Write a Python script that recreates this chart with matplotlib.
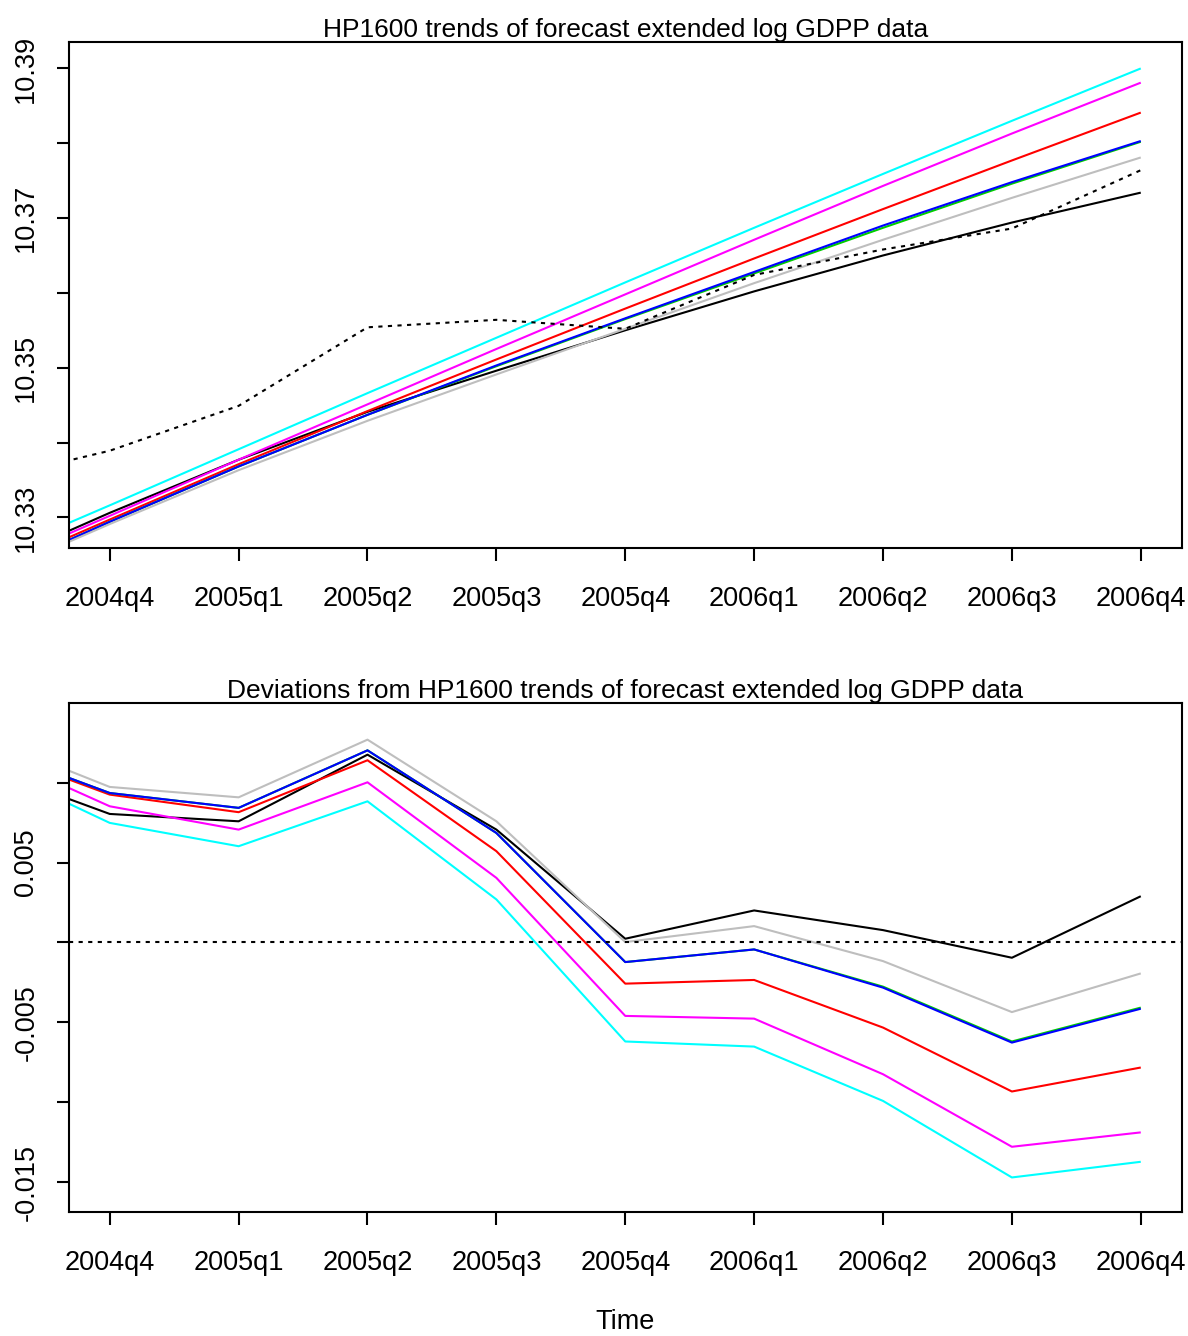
import matplotlib
matplotlib.use("Agg")
import matplotlib.pyplot as plt

plt.rcParams['font.family'] = ['Liberation Sans', 'DejaVu Sans']

# quarters: 2004q3 ... 2006q4 (2004q3 lies just outside the left edge)
quarters = ["2004q3", "2004q4", "2005q1", "2005q2", "2005q3", "2005q4",
            "2006q1", "2006q2", "2006q3", "2006q4"]
tick_labels = quarters[1:]

# ---- top panel: data and HP1600 trends (log GDPP) ----
data_top = [10.3348, 10.3389, 10.3449, 10.3554, 10.3564, 10.3552,
            10.3624, 10.3658, 10.3686, 10.3764]
trend_black = [10.3230, 10.3306, 10.3377, 10.3441, 10.3496, 10.3550,
               10.3602, 10.3650, 10.3694, 10.3734]
trend_red = [10.3222, 10.3297, 10.3371, 10.3442, 10.3511, 10.3579,
             10.3646, 10.3712, 10.3777, 10.3841]
trend_green = [10.3217, 10.3294, 10.3368, 10.3437, 10.3502, 10.3565,
               10.3626, 10.3687, 10.3746, 10.3802]
trend_blue = [10.3217, 10.3294, 10.3368, 10.3437, 10.3503, 10.3566,
              10.3628, 10.3690, 10.3748, 10.3803]
trend_cyan = [10.3242, 10.3316, 10.3391, 10.3466, 10.3540, 10.3614,
              10.3687, 10.3759, 10.3830, 10.3900]
trend_magenta = [10.3227, 10.3302, 10.3377, 10.3451, 10.3525, 10.3598,
                 10.3671, 10.3743, 10.3813, 10.3881]
trend_gray = [10.3216, 10.3291, 10.3363, 10.3429, 10.3491, 10.3552,
              10.3613, 10.3671, 10.3727, 10.3781]

# ---- bottom panel: deviations from trends ----
dev_black = [0.01100, 0.00804, 0.00758, 0.01175, 0.00706, 0.00023,
             0.00200, 0.00077, -0.00096, 0.00289]
dev_red = [0.01224, 0.00925, 0.00815, 0.01140, 0.00571, -0.00258,
           -0.00235, -0.00533, -0.00933, -0.00783]
dev_green = [0.01234, 0.00935, 0.00842, 0.01202, 0.00685, -0.00123,
             -0.00044, -0.00277, -0.00620, -0.00408]
dev_blue = [0.01234, 0.00935, 0.00842, 0.01202, 0.00685, -0.00123,
            -0.00044, -0.00283, -0.00627, -0.00415]
dev_cyan = [0.01128, 0.00748, 0.00602, 0.00883, 0.00269, -0.00620,
            -0.00652, -0.00992, -0.01471, -0.01373]
dev_magenta = [0.01214, 0.00852, 0.00706, 0.01002, 0.00404, -0.00460,
               -0.00477, -0.00825, -0.01279, -0.01189]
dev_gray = [0.01294, 0.00973, 0.00908, 0.01269, 0.00758, 0.00002,
            0.00102, -0.00117, -0.00436, -0.00194]

colors = ["black", "#FF0000", "#00CD00", "#0000FF", "#00FFFF", "#FF00FF", "#BEBEBE"]
trends = [trend_black, trend_red, trend_green, trend_blue, trend_cyan, trend_magenta, trend_gray]
devs = [dev_black, dev_red, dev_green, dev_blue, dev_cyan, dev_magenta, dev_gray]

x = list(range(len(quarters)))
FS = 19.5
LW = 1.5

fig = plt.figure(figsize=(11.88, 13.36), dpi=100)
ax1 = fig.add_axes([0.05766, 0.5896, 0.9373, 0.3786])
ax2 = fig.add_axes([0.05766, 0.09296, 0.9373, 0.3808])

for ax in (ax1, ax2):
    ax.set_xlim(0.68, 9.32)
    ax.set_xticks(x[1:])
    ax.set_xticklabels(tick_labels)
    for s in ax.spines.values():
        s.set_linewidth(1.5)
    ax.tick_params(axis='both', which='both', direction='out', length=9,
                   width=1.5, labelsize=FS, colors='black')
    ax.tick_params(axis='x', pad=18.5)
    ax.tick_params(axis='y', pad=12)

# top panel
for vals, c in zip(trends, colors):
    ax1.plot(x, vals, color=c, lw=LW, solid_capstyle='butt')
ax1.plot(x, data_top, color='black', lw=LW, linestyle=(0, (2, 2.6)))
ax1.set_ylim(10.32586, 10.39347)
yt1 = [10.33, 10.34, 10.35, 10.36, 10.37, 10.38, 10.39]
ax1.set_yticks(yt1)
ax1.set_yticklabels(["10.33", "", "10.35", "", "10.37", "", "10.39"],
                    rotation=90, va='center')
ax1.set_title("HP1600 trends of forecast extended log GDPP data", fontsize=19, pad=1)

# bottom panel
for vals, c in zip(devs, colors):
    ax2.plot(x, vals, color=c, lw=LW, solid_capstyle='butt')
ax2.axhline(0, color='black', lw=LW, linestyle=(0, (2, 2.6)))
ax2.set_ylim(-0.01686, 0.01498)
yt2 = [0.01, 0.005, 0.0, -0.005, -0.01, -0.015]
ax2.set_yticks(yt2)
ax2.set_yticklabels(["", "0.005", "", "-0.005", "", "-0.015"],
                    rotation=90, va='center')
ax2.set_title("Deviations from HP1600 trends of forecast extended log GDPP data",
              fontsize=19, pad=1)
ax2.set_xlabel("Time", fontsize=FS, labelpad=24)

fig.savefig("out.png", dpi=100)
